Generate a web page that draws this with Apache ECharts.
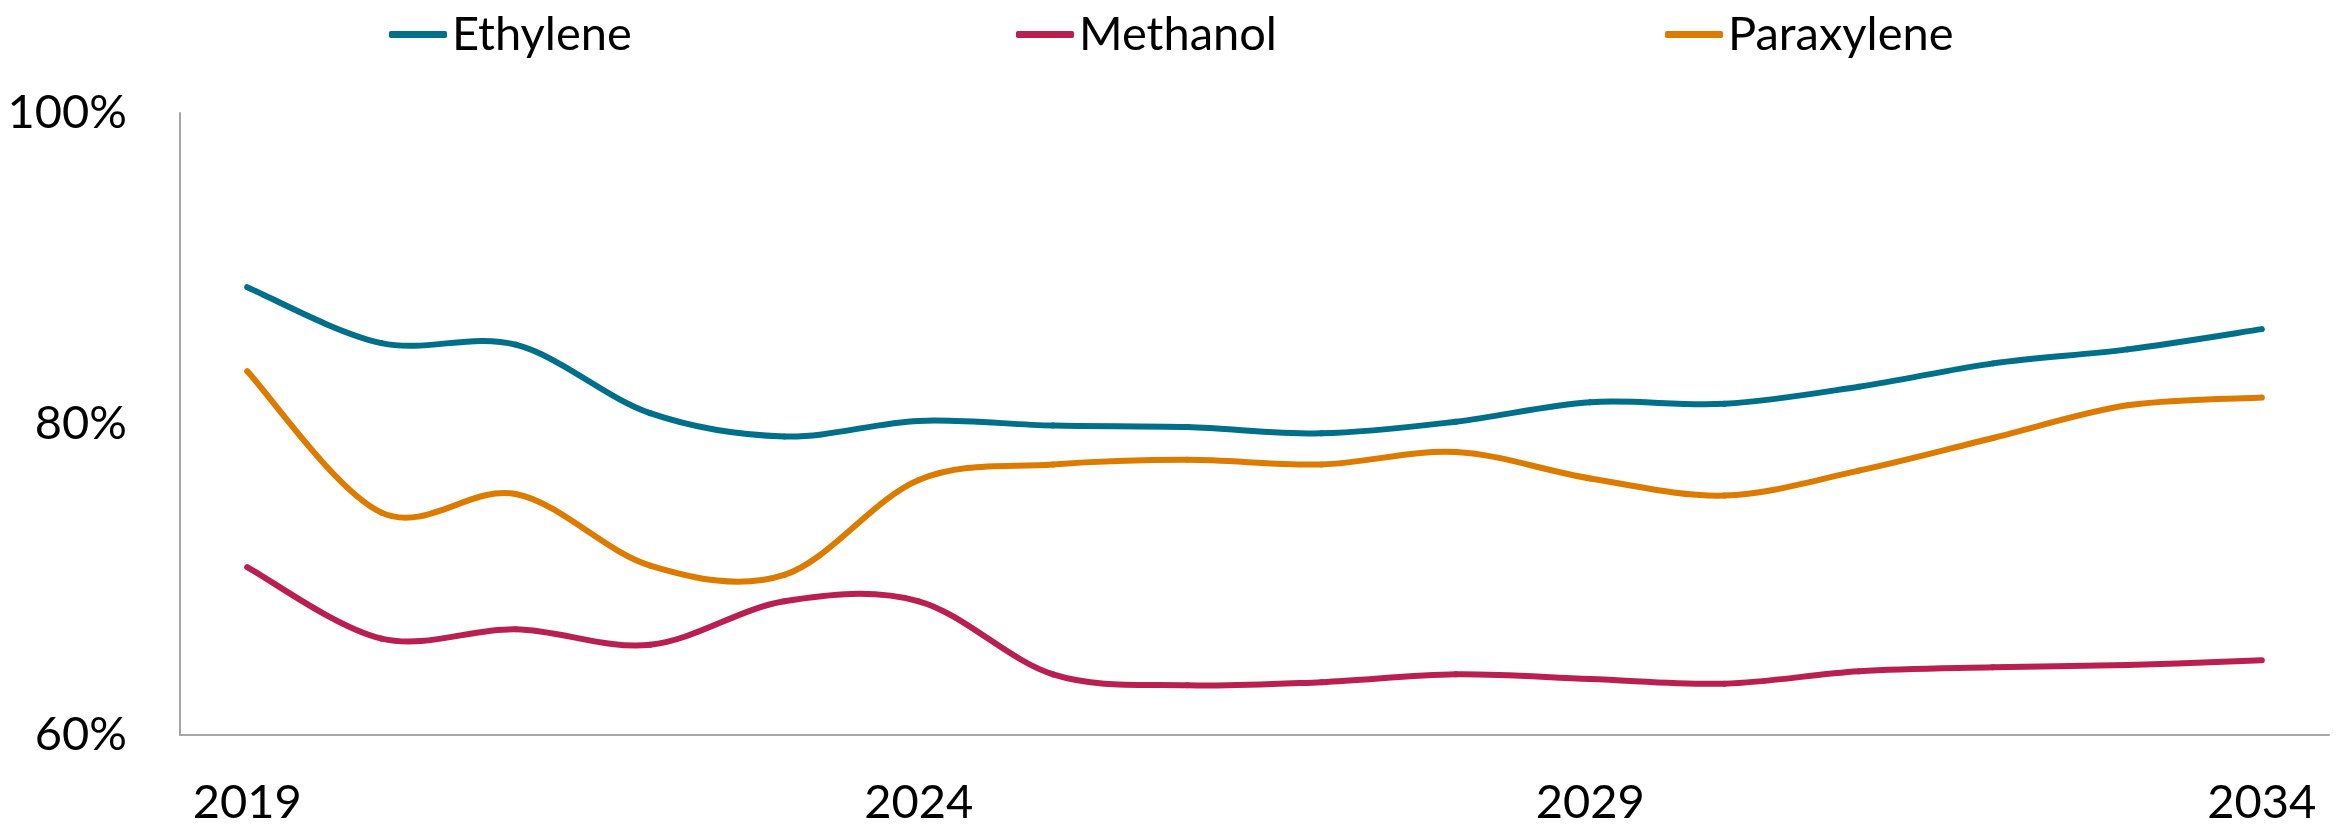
<!DOCTYPE html>
<html>
<head>
<meta charset="utf-8">
<script src="https://cdn.jsdelivr.net/npm/echarts@6/dist/echarts.min.js"></script>
<style>
html,body{margin:0;padding:0;background:#fff;}
#chart{width:2346px;height:828px;}
</style>
</head>
<body>
<div id="chart"></div>
<script>
const years = ['2019','2020','2021','2022','2023','2024','2025','2026','2027','2028','2029','2030','2031','2032','2033','2034'];
const ethylene   = [88.8, 85.2, 85.1, 80.7, 79.2, 80.2, 79.9, 79.8, 79.4, 80.15, 81.4, 81.3, 82.4, 83.9, 84.8, 86.1];
const methanol   = [70.8, 66.2, 66.8, 65.8, 68.6, 68.6, 63.9, 63.2, 63.4, 63.9, 63.6, 63.3, 64.1, 64.35, 64.5, 64.8];
const paraxylene = [83.4, 74.3, 75.5, 70.9, 70.3, 76.4, 77.4, 77.7, 77.4, 78.2, 76.5, 75.4, 77.0, 79.1, 81.2, 81.7];
const yTicks = [60, 80, 100];

const FONT = 'Lato';
const FS = 47;
const chart = echarts.init(document.getElementById('chart'), null, {renderer: 'canvas'});

function mkLegend(name, left) {
  return {
    data: [name], left: left, top: 6,
    icon: 'roundRect', itemWidth: 58, itemHeight: 7, itemGap: 6,
    textStyle: {fontFamily: FONT, fontSize: FS, color: '#000'}
  };
}

// Smoothed line drawn as Catmull-Rom bezier segments through the data points,
// positioned with the chart's own axes (api.coord).
function mkSeries(name, values, color) {
  const data = values.map((v, i) => [i, v]);
  return {
    name: name, type: 'custom',
    itemStyle: {color: color},
    data: data,
    encode: {x: 0, y: 1},
    clip: false,
    renderItem: function (params, api) {
      const i = params.dataIndex;
      const n = values.length;
      if (i >= n - 1) return null;
      const P = k => {
        const kk = Math.max(0, Math.min(n - 1, k));
        return api.coord([kk, values[kk]]);
      };
      const p0 = P(i - 1), p1 = P(i), p2 = P(i + 1), p3 = P(i + 2);
      const t = 1 / 6;
      return {
        type: 'bezierCurve',
        shape: {
          x1: p1[0], y1: p1[1],
          cpx1: p1[0] + (p2[0] - p0[0]) * t, cpy1: p1[1] + (p2[1] - p0[1]) * t,
          cpx2: p2[0] - (p3[0] - p1[0]) * t, cpy2: p2[1] - (p3[1] - p1[1]) * t,
          x2: p2[0], y2: p2[1]
        },
        style: {stroke: color, lineWidth: 6, fill: null, lineCap: 'round'}
      };
    }
  };
}

chart.setOption({
  animation: false,
  backgroundColor: '#fff',
  legend: [
    mkLegend('Ethylene', 384),
    mkLegend('Methanol', 1011),
    mkLegend('Paraxylene', 1660)
  ],
  grid: {left: 180, right: 17, top: 113, bottom: 93, containLabel: false},
  xAxis: {
    type: 'category', data: years, boundaryGap: true,
    axisLine: {show: true, lineStyle: {color: '#A6A6A6', width: 2}},
    axisTick: {show: false},
    axisLabel: {interval: 4, fontFamily: FONT, fontSize: FS, color: '#000', margin: 44}
  },
  yAxis: {
    type: 'value', min: yTicks[0], max: yTicks[yTicks.length - 1], interval: 20,
    axisLine: {show: true, lineStyle: {color: '#A6A6A6', width: 2}},
    axisTick: {show: false},
    splitLine: {show: false},
    axisLabel: {formatter: '{value}%', fontFamily: FONT, fontSize: FS, color: '#000', margin: 53}
  },
  series: [
    mkSeries('Ethylene', ethylene, '#006F8A'),
    mkSeries('Methanol', methanol, '#BA1F52'),
    mkSeries('Paraxylene', paraxylene, '#DD7B00')
  ]
});
</script>
</body>
</html>
